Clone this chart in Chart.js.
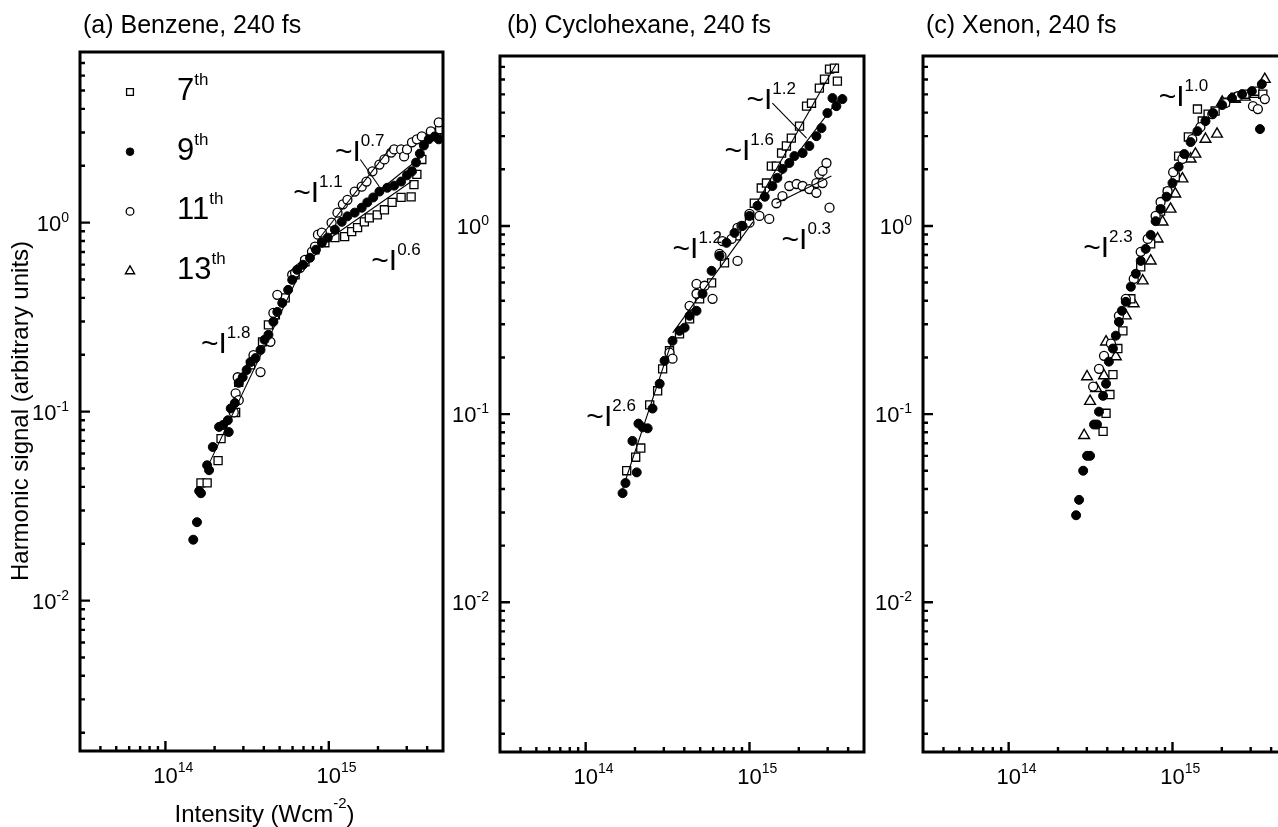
<!DOCTYPE html>
<html>
<head>
<meta charset="utf-8">
<script src="https://cdn.jsdelivr.net/npm/chart.js@4.4.1/dist/chart.umd.min.js"></script>
<style>
html, body { margin: 0; padding: 0; background: #fff; overflow: hidden; }
#wrap { position: relative; width: 1278px; height: 827px; overflow: hidden; }
canvas { position: absolute; top: 0; }
</style>
</head>
<body>
<div id="wrap">
  <canvas id="panelA"></canvas>
  <canvas id="panelB"></canvas>
  <canvas id="panelC"></canvas>
</div>
<script>
// Intensity in units of 1e14 W/cm^2, signal in arbitrary units
const benzene7 = [[1.65,0.042],[1.80,0.042],[2.10,0.055],[2.19,0.072],[2.69,0.099],[2.81,0.143],[3.32,0.177],[3.93,0.234],[4.27,0.288],[4.71,0.325],[5.41,0.400],[6.22,0.530],[7.15,0.621],[8.23,0.719],[9.46,0.783],[10.9,0.833],[12.5,0.843],[13.8,0.896],[15.0,0.941],[16.5,1.01],[17.7,1.06],[19.8,1.10],[21.9,1.17],[24.4,1.28],[27.7,1.36],[31.9,1.37],[33.2,1.59],[34.6,1.80],[37.1,2.16],[42.1,2.86],[45.8,3.00],[47.7,3.11]]
const benzene9 = [[1.48,0.021],[1.56,0.026],[1.61,0.038],[1.65,0.037],[1.80,0.052],[1.85,0.049],[1.95,0.065],[2.13,0.083],[2.25,0.085],[2.44,0.078],[2.41,0.090],[2.51,0.104],[2.66,0.111],[2.81,0.142],[2.97,0.152],[3.14,0.166],[3.32,0.183],[3.56,0.192],[3.82,0.212],[4.04,0.240],[4.27,0.255],[4.58,0.299],[4.84,0.337],[5.19,0.376],[5.64,0.441],[5.97,0.498],[6.40,0.563],[6.96,0.599],[7.67,0.652],[8.34,0.719],[9.07,0.783],[9.86,0.833],[10.9,0.918],[12.0,1.01],[13.0,1.08],[14.4,1.13],[15.9,1.20],[17.2,1.28],[18.7,1.36],[20.4,1.46],[22.8,1.53],[25.1,1.57],[27.7,1.65],[30.1,1.78],[32.3,1.87],[34.2,2.08],[36.1,2.32],[38.2,2.56],[40.9,2.76],[44.5,2.86],[47.1,2.76]]
const benzene11 = [[2.62,0.099],[2.69,0.125],[2.81,0.115],[2.77,0.152],[3.46,0.199],[3.82,0.162],[4.39,0.234],[4.58,0.333],[4.84,0.415],[5.97,0.530],[6.22,0.543],[6.67,0.577],[7.15,0.636],[7.89,0.702],[8.23,0.746],[8.58,0.864],[9.07,0.885],[10.4,1.00],[11.3,1.13],[12.2,1.25],[13.0,1.32],[14.4,1.46],[15.9,1.55],[17.0,1.65],[18.5,1.87],[20.4,2.03],[21.9,2.16],[24.1,2.35],[25.1,2.44],[27.7,2.44],[28.9,2.24],[30.1,2.44],[32.3,2.66],[34.6,2.76],[37.1,2.86],[42.1,3.04],[47.1,3.39]]

const cyclo7 = [[1.78,0.050],[2.02,0.059],[2.17,0.066],[2.46,0.112],[2.75,0.133],[2.95,0.174],[3.25,0.217],[3.74,0.267],[4.31,0.321],[4.96,0.410],[5.87,0.498],[7.04,0.637],[8.33,0.885],[10.0,1.13],[10.7,1.32],[11.8,1.59],[12.7,1.69],[13.6,2.08],[14.6,2.08],[15.7,2.44],[16.8,2.66],[18.0,2.93],[20.2,3.39],[22.3,4.33],[23.9,4.49],[26.7,5.40],[28.7,6.02],[30.8,6.81],[33.0,6.89],[34.4,5.88]]
const cyclo9 = [[1.68,0.038],[1.75,0.043],[1.93,0.072],[2.05,0.049],[2.10,0.089],[2.23,0.085],[2.39,0.084],[2.56,0.107],[2.83,0.145],[3.03,0.192],[3.39,0.245],[3.74,0.277],[4.02,0.288],[4.31,0.333],[4.75,0.354],[5.17,0.436],[5.87,0.577],[6.56,0.693],[7.24,0.813],[8.10,0.918],[9.07,1.00],[10.0,1.13],[11.2,1.28],[12.4,1.43],[13.8,1.63],[14.8,1.80],[15.9,2.01],[17.5,2.16],[18.8,2.35],[21.1,2.44],[23.2,2.66],[25.6,3.00],[27.5,3.31],[29.9,3.98],[32.1,4.78],[33.9,4.33],[36.9,4.72]]
const cyclo11 = [[3.25,0.212],[3.39,0.197],[4.31,0.376],[4.75,0.436],[4.75,0.492],[5.32,0.481],[5.95,0.410],[6.56,0.710],[6.75,0.693],[6.84,0.830],[7.77,0.853],[8.45,0.652],[8.45,0.976],[8.94,1.00],[10.0,1.04],[10.0,1.16],[11.5,1.13],[13.2,1.09],[14.6,1.32],[15.9,1.44],[17.5,1.63],[19.4,1.67],[21.1,1.63],[23.2,1.57],[25.6,1.50],[25.6,1.69],[26.7,1.89],[27.9,1.69],[27.9,1.96],[29.5,2.16],[30.8,1.25]]

const xenon7 = [[3.77,0.081],[3.93,0.101],[4.15,0.127],[4.33,0.162],[4.64,0.223],[4.98,0.277],[5.57,0.410],[6.40,0.606],[7.36,0.803],[8.46,1.20],[9.33,1.51],[10.4,1.82],[10.9,2.35],[12.5,2.97],[14.2,4.18],[15.2,3.61],[16.5,3.93],[18.2,4.08],[21.0,4.55],[24.1,4.84],[27.7,5.01],[31.9,5.20],[35.6,5.01]]
const xenon9 = [[2.58,0.029],[2.69,0.035],[2.85,0.050],[3.01,0.060],[3.14,0.060],[3.32,0.088],[3.46,0.088],[3.56,0.103],[3.77,0.125],[3.93,0.145],[4.09,0.190],[4.33,0.223],[4.51,0.261],[4.71,0.309],[4.91,0.354],[5.19,0.395],[5.57,0.475],[5.97,0.557],[6.40,0.652],[6.86,0.755],[7.36,0.896],[7.89,1.06],[8.46,1.23],[9.20,1.43],[10.0,1.69],[10.9,2.06],[11.8,2.41],[12.9,2.79],[14.2,3.19],[15.9,3.61],[17.7,3.98],[20.1,4.39],[23.1,4.78],[26.6,5.01],[30.5,5.20],[35.1,5.67],[34.2,3.27]]
const xenon11 = [[3.28,0.140],[3.56,0.174],[3.82,0.204],[4.21,0.237],[4.71,0.333],[5.19,0.410],[5.80,0.523],[6.40,0.728],[7.06,0.853],[7.89,1.13],[8.46,1.34],[9.33,1.53],[10.1,1.93],[11.5,2.27],[13.2,2.89],[14.8,3.35],[17.5,3.93],[21.0,4.49],[25.1,4.89],[31.0,4.33],[33.2,4.18],[36.6,4.72]]
const xenon13 = [[2.89,0.077],[3.01,0.158],[3.14,0.117],[3.42,0.137],[3.82,0.160],[3.93,0.242],[4.51,0.202],[5.19,0.333],[5.80,0.386],[6.58,0.511],[7.36,0.652],[8.11,0.853],[8.70,1.05],[9.73,1.23],[10.4,1.48],[11.5,1.78],[12.9,2.27],[13.8,2.41],[15.9,2.89],[18.7,3.08],[20.1,4.55],[24.1,4.72],[27.7,4.84],[31.9,5.01],[36.6,6.02]]

// power-law fit segments, [start, end]
const benzeneFits = [[[1.75,0.048],[6.5,0.52]], [[8.5,0.80],[24,2.5]], [[12,1.02],[36,2.20]], [[10,0.82],[32,1.65]]]
const cycloFits = [[[1.68,0.040],[3.35,0.242]], [[3.4,0.27],[10.5,1.05]], [[10.7,1.25],[33.9,7.3]], [[12.4,1.43],[36.9,5.0]], [[14.6,1.32],[31.6,1.84]]]

const harmonicNames = ['7th', '9th', '11th', '13th']
const xTickDecades = [14, 15]
const yTickDecades = [-2, -1, 0]

const FONT = '"Liberation Sans", Arial, Helvetica, sans-serif'
const X_MIN = 3e13, X_MAX = 5e15, Y_MIN = 1.6e-3, Y_MAX = 8

const styles = {
    '7th':  { pointStyle: 'rect', pointRadius: 5.7, backgroundColor: '#fff', borderColor: '#000', borderWidth: 1.3 },
    '9th':  { pointStyle: 'circle', pointRadius: 4.5, backgroundColor: '#000', borderColor: '#000', borderWidth: 1 },
    '11th': { pointStyle: 'circle', pointRadius: 4.5, backgroundColor: '#fff', borderColor: '#000', borderWidth: 1.3 },
    '13th': { pointStyle: 'triangle', pointRadius: 6.2, backgroundColor: '#fff', borderColor: '#000', borderWidth: 1.4 }
}

function toPoints(pairs) {
    return pairs.map(([i, s]) => ({ x: i * 1e14, y: s }))
}

function markerSet(name, pairs) {
    const st = styles[name]
    return {
        label: name,
        data: toPoints(pairs),
        showLine: false,
        pointStyle: st.pointStyle,
        pointRadius: st.pointRadius,
        pointBackgroundColor: st.backgroundColor,
        pointBorderColor: st.borderColor,
        pointBorderWidth: st.borderWidth
    }
}

function fitSet(seg) {
    return {
        label: 'fit',
        data: toPoints(seg),
        showLine: true,
        borderColor: '#000',
        borderWidth: 1.1,
        pointRadius: 0
    }
}

// text with a raised exponent; returns right edge
function supText(ctx, x, y, base, sup, size, supSize, rise, align) {
    ctx.font = size + 'px ' + FONT
    const wb = ctx.measureText(base).width
    ctx.font = supSize + 'px ' + FONT
    const ws = ctx.measureText(sup).width
    let x0 = x
    if (align === 'right') x0 = x - wb - ws
    else if (align === 'base-center') x0 = x - wb / 2
    else if (align === 'center') x0 = x - (wb + ws) / 2
    ctx.textAlign = 'left'
    ctx.textBaseline = 'alphabetic'
    ctx.font = size + 'px ' + FONT
    ctx.fillText(base, x0, y)
    ctx.font = supSize + 'px ' + FONT
    ctx.fillText(sup, x0 + wb, y - rise)
    return x0 + wb + ws
}

const decorations = {
    id: 'decorations',
    afterDraw(chart, args, opts) {
        const ctx = chart.ctx
        const { left: L, right: R, top: T, bottom: B } = chart.chartArea
        const xs = chart.scales.x, ys = chart.scales.y
        ctx.save()
        ctx.fillStyle = '#000'
        ctx.strokeStyle = '#000'

        // frame
        ctx.lineWidth = 3
        ctx.strokeRect(L, T, R - L, B - T)

        // inward ticks
        ctx.lineWidth = 2.4
        ctx.beginPath()
        for (let d = -3; d <= 0; d++) {
            for (let m = 1; m <= 9; m++) {
                const v = m * Math.pow(10, d)
                if (v <= Y_MIN || v >= Y_MAX) continue
                const y = ys.getPixelForValue(v)
                ctx.moveTo(L, y)
                ctx.lineTo(L + (m === 1 ? 10 : 5), y)
            }
        }
        for (let d = 13; d <= 15; d++) {
            for (let m = 1; m <= 9; m++) {
                const v = m * Math.pow(10, d)
                if (v <= X_MIN || v >= X_MAX) continue
                const x = xs.getPixelForValue(v)
                ctx.moveTo(x, B)
                ctx.lineTo(x, B - (m === 1 ? 10 : 5))
            }
        }
        ctx.stroke()

        // tick labels
        xTickDecades.forEach(d => {
            supText(ctx, xs.getPixelForValue(Math.pow(10, d)), B + 32, '10', String(d), 22, 14, 11, 'base-center')
        })
        yTickDecades.forEach(d => {
            supText(ctx, L - 11, ys.getPixelForValue(Math.pow(10, d)) + 8, '10', d < 0 ? '-' + (-d) : String(d), 22, 14, 9, 'right')
        })

        // panel title
        ctx.font = '25px ' + FONT
        ctx.textAlign = 'left'
        ctx.fillText(opts.title, L + opts.titleDx, 33)

        if (opts.axisTitles) {
            const x0 = (L + R) / 2 + 5 - 92
            const end = supText(ctx, x0, 822, 'Intensity (Wcm', '-2', 24, 15, 14, 'left')
            ctx.font = '24px ' + FONT
            ctx.fillText(')', end, 822)

            ctx.save()
            ctx.translate(28, 411)
            ctx.rotate(-Math.PI / 2)
            ctx.textAlign = 'center'
            ctx.font = '24px ' + FONT
            ctx.fillText('Harmonic signal (arbitrary units)', 0, 0)
            ctx.restore()
        }

        // power-law labels
        ctx.lineWidth = 1.1
        ;(opts.notes || []).forEach(n => {
            const x = xs.getPixelForValue(n.at[0] * 1e14)
            const y = ys.getPixelForValue(n.at[1])
            supText(ctx, x, y, '~I', n.exp, 30, 17, 15, 'left')
            if (n.leader) {
                ctx.beginPath()
                ctx.moveTo(xs.getPixelForValue(n.leader[0][0] * 1e14), ys.getPixelForValue(n.leader[0][1]))
                ctx.lineTo(xs.getPixelForValue(n.leader[1][0] * 1e14), ys.getPixelForValue(n.leader[1][1]))
                ctx.stroke()
            }
        })

        // legend
        if (opts.legend) {
            harmonicNames.forEach((name, i) => {
                const st = styles[name]
                const px = L + 50
                const py = T + 40 + i * 59.7
                ctx.fillStyle = st.backgroundColor
                ctx.strokeStyle = st.borderColor
                ctx.lineWidth = st.borderWidth
                Chart.helpers.drawPoint(ctx, { pointStyle: st.pointStyle, radius: st.pointRadius * 0.85, rotation: 0, borderWidth: st.borderWidth }, px, py)
                ctx.fillStyle = '#000'
                supText(ctx, L + 97, py + 8, name.replace('th', ''), 'th', 31, 17, 15, 'left')
            })
        }
        ctx.restore()
    }
}

function makePanel(id, left, width, padding, datasets, deco) {
    const canvas = document.getElementById(id)
    canvas.width = width
    canvas.height = 827
    canvas.style.left = left + 'px'
    canvas.style.width = width + 'px'
    canvas.style.height = '827px'
    new Chart(canvas, {
        type: 'scatter',
        data: { datasets },
        options: {
            responsive: false,
            animation: false,
            devicePixelRatio: 1,
            events: [],
            layout: { padding },
            scales: {
                x: { type: 'logarithmic', min: X_MIN, max: X_MAX, display: false },
                y: { type: 'logarithmic', min: Y_MIN, max: Y_MAX, display: false }
            },
            plugins: {
                legend: { display: false },
                tooltip: { enabled: false },
                decorations: deco
            }
        },
        plugins: [decorations]
    })
}

// (a) Benzene
makePanel('panelA', 0, 450, { left: 80, top: 52, right: 6, bottom: 76 }, [
    ...benzeneFits.map(fitSet),
    markerSet('9th', benzene9),
    markerSet('11th', benzene11),
    markerSet('7th', benzene7)
], {
    title: '(a) Benzene, 240 fs', titleDx: 3, legend: true, axisTitles: true,
    notes: [
        { exp: '1.8', at: [1.65, 0.204] },
        { exp: '1.1', at: [6.05, 1.29] },
        { exp: '0.7', at: [10.9, 2.11], leader: [[15.6, 2.16], [20.4, 1.55]] },
        { exp: '0.6', at: [18.2, 0.563] }
    ]
})

// (b) Cyclohexane
makePanel('panelB', 450, 422, { left: 50, top: 56, right: 8, bottom: 75 }, [
    ...cycloFits.map(fitSet),
    markerSet('9th', cyclo9),
    markerSet('11th', cyclo11),
    markerSet('7th', cyclo7)
], {
    title: '(b) Cyclohexane, 240 fs', titleDx: 7,
    notes: [
        { exp: '1.2', at: [9.59, 4.18], leader: [[13.8, 4.49], [22.3, 2.93]] },
        { exp: '1.6', at: [7.04, 2.24] },
        { exp: '1.2', at: [3.39, 0.676] },
        { exp: '0.3', at: [15.7, 0.755] },
        { exp: '2.6', at: [1.01, 0.0869] }
    ]
})

// (c) Xenon
makePanel('panelC', 872, 428, { left: 51, top: 56, right: 13, bottom: 75 }, [
    markerSet('9th', xenon9),
    markerSet('11th', xenon11),
    markerSet('7th', xenon7),
    markerSet('13th', xenon13)
], {
    title: '(c) Xenon, 240 fs', titleDx: 3,
    notes: [
        { exp: '1.0', at: [8.23, 4.33] },
        { exp: '2.3', at: [2.85, 0.685] }
    ]
})
</script>
</body>
</html>
